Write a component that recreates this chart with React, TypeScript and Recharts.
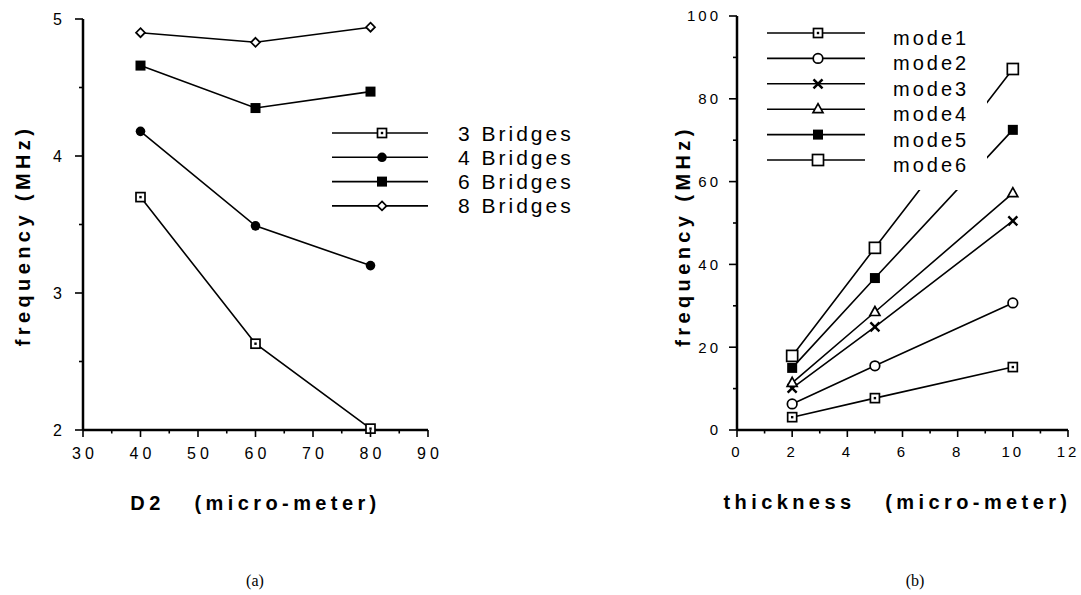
import { Legend, Line, LineChart, XAxis, YAxis } from "recharts";

const FONT = '"Liberation Sans", Arial, Helvetica, sans-serif';
const INK = "#000";

// (a) frequency against D2 for 3, 4, 6 and 8 bridges
const d2Values = [40, 60, 80];
const bridges3 = [3.7, 2.63, 2.01];
const bridges4 = [4.18, 3.49, 3.2];
const bridges6 = [4.66, 4.35, 4.47];
const bridges8 = [4.9, 4.83, 4.94];
const d2Ticks = [30, 35, 40, 45, 50, 55, 60, 65, 70, 75, 80, 85, 90];
const d2Labels = [30, 40, 50, 60, 70, 80, 90];
const bridgeFreqTicks = [2, 2.5, 3, 3.5, 4, 4.5, 5];
const bridgeFreqLabels = [2, 3, 4, 5];

// (b) frequency of the first six modes against thickness
const thicknessValues = [2, 5, 10];
const mode1 = [3.1, 7.7, 15.2];
const mode2 = [6.3, 15.5, 30.7];
const mode3 = [10.1, 24.9, 50.5];
const mode4 = [11.4, 28.5, 57.2];
const mode5 = [15, 36.7, 72.5];
const mode6 = [17.9, 44, 87.2];
const thicknessTicks = [0, 1, 2, 3, 4, 5, 6, 7, 8, 9, 10, 11, 12];
const thicknessLabels = [0, 2, 4, 6, 8, 10, 12];
const modeFreqTicks = [0, 10, 20, 30, 40, 50, 60, 70, 80, 90, 100];
const modeFreqLabels = [0, 20, 40, 60, 80, 100];

type MarkerKind =
  | "dotSquare"
  | "disc"
  | "solidSquare"
  | "diamond"
  | "circle"
  | "cross"
  | "triangle"
  | "square";

type Series = { key: string; name: string; values: number[]; marker: MarkerKind };

const bridgeSeries: Series[] = [
  { key: "b3", name: "3 Bridges", values: bridges3, marker: "dotSquare" },
  { key: "b4", name: "4 Bridges", values: bridges4, marker: "disc" },
  { key: "b6", name: "6 Bridges", values: bridges6, marker: "solidSquare" },
  { key: "b8", name: "8 Bridges", values: bridges8, marker: "diamond" },
];

const modeSeries: Series[] = [
  { key: "m1", name: "mode1", values: mode1, marker: "dotSquare" },
  { key: "m2", name: "mode2", values: mode2, marker: "circle" },
  { key: "m3", name: "mode3", values: mode3, marker: "cross" },
  { key: "m4", name: "mode4", values: mode4, marker: "triangle" },
  { key: "m5", name: "mode5", values: mode5, marker: "solidSquare" },
  { key: "m6", name: "mode6", values: mode6, marker: "square" },
];

const bridgeRows = d2Values.map((d2, i) => {
  const row: Record<string, number> = { d2 };
  bridgeSeries.forEach((s) => (row[s.key] = s.values[i]));
  return row;
});

const modeRows = thicknessValues.map((t, i) => {
  const row: Record<string, number> = { t };
  modeSeries.forEach((s) => (row[s.key] = s.values[i]));
  return row;
});

function Marker({ kind, x, y }: { kind: MarkerKind; x: number; y: number }) {
  const line = { stroke: INK, strokeWidth: 1.7 };
  switch (kind) {
    case "dotSquare":
      return (
        <g>
          <rect x={x - 4.5} y={y - 4.5} width={9} height={9} fill="#fff" {...line} />
          <rect x={x - 1.2} y={y - 1.2} width={2.4} height={2.4} fill={INK} />
        </g>
      );
    case "disc":
      return <circle cx={x} cy={y} r={4.8} fill={INK} />;
    case "solidSquare":
      return <rect x={x - 5} y={y - 5} width={10} height={10} fill={INK} />;
    case "diamond":
      return (
        <polygon
          points={`${x},${y - 4.5} ${x + 4.5},${y} ${x},${y + 4.5} ${x - 4.5},${y}`}
          fill="#fff"
          {...line}
        />
      );
    case "circle":
      return <circle cx={x} cy={y} r={4.8} fill="#fff" {...line} />;
    case "cross":
      return (
        <g stroke={INK} strokeWidth={2.4}>
          <line x1={x - 4.5} y1={y - 4.5} x2={x + 4.5} y2={y + 4.5} />
          <line x1={x - 4.5} y1={y + 4.5} x2={x + 4.5} y2={y - 4.5} />
        </g>
      );
    case "triangle":
      return (
        <polygon
          points={`${x},${y - 5.5} ${x + 5},${y + 3.5} ${x - 5},${y + 3.5}`}
          fill="#fff"
          {...line}
        />
      );
    case "square":
      return <rect x={x - 5.5} y={y - 5.5} width={11} height={11} fill="#fff" {...line} />;
  }
}

const renderDot = (kind: MarkerKind) => (p: any) =>
  <Marker key={`${kind}-${p.index}`} kind={kind} x={p.cx} y={p.cy} />;

// Tick drawn by hand so minor ticks get a shorter line and no label.
function YTick(props: any) {
  const { x, y, payload, labels, size, gap, fontSize, spacing } = props;
  const axisX = x + size + gap;
  const major = labels.includes(payload.value);
  return (
    <g>
      <line x1={axisX} x2={axisX - (major ? size : size / 2)} y1={y} y2={y} stroke={INK} strokeWidth={1.6} />
      {major && (
        <text
          x={x}
          y={y}
          dy="0.36em"
          textAnchor="end"
          fontFamily={FONT}
          fontSize={fontSize}
          letterSpacing={spacing}
          fill={INK}
        >
          {payload.value}
        </text>
      )}
    </g>
  );
}

function XTick(props: any) {
  const { x, y, payload, labels, size, gap, fontSize, spacing, nudge = 0 } = props;
  const axisY = y - size - gap;
  const major = labels.includes(payload.value);
  return (
    <g>
      <line x1={x} x2={x} y1={axisY} y2={axisY + (major ? size : size / 2)} stroke={INK} strokeWidth={1.6} />
      {major && (
        <text
          x={x + nudge}
          y={y}
          dy="0.71em"
          textAnchor="middle"
          fontFamily={FONT}
          fontSize={fontSize}
          letterSpacing={spacing}
          fill={INK}
        >
          {payload.value}
        </text>
      )}
    </g>
  );
}

const titleStyle = {
  fontFamily: FONT,
  fontSize: 20,
  fontWeight: 700,
  letterSpacing: 4.4,
  whiteSpace: "pre" as const,
};

function YTitle({ viewBox, text, gap, shift }: any) {
  const x = viewBox.x + viewBox.width - gap;
  const y = viewBox.y + viewBox.height / 2 + shift;
  return (
    <text
      x={x}
      y={y}
      transform={`rotate(-90 ${x} ${y})`}
      textAnchor="middle"
      dominantBaseline="central"
      fill={INK}
      style={titleStyle}
    >
      {text}
    </text>
  );
}

function XTitle({ viewBox, text, gap, shift }: any) {
  const x = viewBox.x + viewBox.width / 2 + shift;
  const y = viewBox.y + gap;
  return (
    <text x={x} y={y} textAnchor="middle" dominantBaseline="central" fill={INK} style={titleStyle}>
      {text}
    </text>
  );
}

function LegendBox({ series, width, height, rowTop, rowGap, lineEnd, markerX, textX, fontSize, baseline }: any) {
  return (
    <svg width={width} height={height} style={{ display: "block", background: "#fff" }}>
      {series.map((s: Series, i: number) => {
        const y = rowTop + i * rowGap;
        return (
          <g key={s.key}>
            <line x1={2} x2={lineEnd} y1={y} y2={y} stroke={INK} strokeWidth={1.6} />
            <Marker kind={s.marker} x={markerX} y={y} />
            <text x={textX} y={y + baseline} fontFamily={FONT} fontSize={fontSize} letterSpacing={3} fill={INK}>
              {s.name}
            </text>
          </g>
        );
      })}
    </svg>
  );
}

const axisLine = { stroke: INK, strokeWidth: 2.5 };

export default function App() {
  return (
    <div
      style={{
        position: "absolute",
        left: 0,
        top: 0,
        width: 1081,
        height: 595,
        background: "#fff",
        overflow: "hidden",
      }}
    >
      <div style={{ position: "absolute", left: 0, top: 0 }}>
        <LineChart width={540} height={595} data={bridgeRows} margin={{ top: 19, right: 112, bottom: 135, left: 43 }}>
          <XAxis
            dataKey="d2"
            type="number"
            domain={[30, 90]}
            ticks={d2Ticks}
            interval={0}
            height={30}
            tickSize={7}
            tickMargin={11}
            tickLine={false}
            axisLine={axisLine}
            tick={(p: any) => (
              <XTick {...p} labels={d2Labels} size={7} gap={11} fontSize={16} spacing={4} nudge={2} />
            )}
            label={{
              content: (p: any) => <XTitle viewBox={p.viewBox} text={"D2   (micro-meter)"} gap={73} shift={0} />,
            }}
          />
          <YAxis
            type="number"
            domain={[2, 5]}
            ticks={bridgeFreqTicks}
            interval={0}
            width={40}
            tickSize={8}
            tickMargin={10}
            tickLine={false}
            axisLine={axisLine}
            tick={(p: any) => <YTick {...p} labels={bridgeFreqLabels} size={8} gap={10} fontSize={16} spacing={3} />}
            label={{
              content: (p: any) => <YTitle viewBox={p.viewBox} text="frequency (MHz)" gap={60} shift={11} />,
            }}
          />
          <Legend
            layout="horizontal"
            verticalAlign="middle"
            align="center"
            wrapperStyle={{ left: 330, top: 115, width: 260, height: 105 }}
            content={() => (
              <LegendBox
                series={bridgeSeries}
                width={260}
                height={105}
                rowTop={18}
                rowGap={24.3}
                lineEnd={98}
                markerX={52}
                textX={128}
                fontSize={21}
                baseline={7.5}
              />
            )}
          />
          {bridgeSeries.map((s) => (
            <Line
              key={s.key}
              dataKey={s.key}
              name={s.name}
              type="linear"
              stroke={INK}
              strokeWidth={1.6}
              dot={renderDot(s.marker)}
              activeDot={false}
              isAnimationActive={false}
            />
          ))}
        </LineChart>
      </div>

      <div style={{ position: "absolute", left: 540, top: 0 }}>
        <LineChart width={541} height={595} data={modeRows} margin={{ top: 16, right: 13, bottom: 135, left: 157 }}>
          <XAxis
            dataKey="t"
            type="number"
            domain={[0, 12]}
            ticks={thicknessTicks}
            interval={0}
            height={30}
            tickSize={7}
            tickMargin={9}
            tickLine={false}
            axisLine={axisLine}
            tick={(p: any) => <XTick {...p} labels={thicknessLabels} size={7} gap={9} fontSize={15} spacing={3} />}
            label={{
              content: (p: any) => (
                <XTitle viewBox={p.viewBox} text={"thickness   (micro-meter)"} gap={72} shift={-5} />
              ),
            }}
          />
          <YAxis
            type="number"
            domain={[0, 100]}
            ticks={modeFreqTicks}
            interval={0}
            width={40}
            tickSize={8}
            tickMargin={8}
            tickLine={false}
            axisLine={axisLine}
            tick={(p: any) => <YTick {...p} labels={modeFreqLabels} size={8} gap={8} fontSize={15} spacing={3} />}
            label={{
              content: (p: any) => <YTitle viewBox={p.viewBox} text="frequency (MHz)" gap={54} shift={13} />,
            }}
          />
          {modeSeries.map((s) => (
            <Line
              key={s.key}
              dataKey={s.key}
              name={s.name}
              type="linear"
              stroke={INK}
              strokeWidth={1.6}
              dot={renderDot(s.marker)}
              activeDot={false}
              isAnimationActive={false}
            />
          ))}
          <Legend
            layout="horizontal"
            verticalAlign="middle"
            align="center"
            wrapperStyle={{ left: 225, top: 20, width: 222, height: 170 }}
            content={() => (
              <LegendBox
                series={modeSeries}
                width={222}
                height={170}
                rowTop={13}
                rowGap={25.4}
                lineEnd={100}
                markerX={53}
                textX={128}
                fontSize={20}
                baseline={12}
              />
            )}
          />
        </LineChart>
      </div>

      <div
        style={{
          position: "absolute",
          left: 235,
          top: 572,
          width: 40,
          textAlign: "center",
          fontFamily: '"Liberation Serif", "DejaVu Serif", serif',
          fontSize: 16,
        }}
      >
        (a)
      </div>
      <div
        style={{
          position: "absolute",
          left: 895,
          top: 572,
          width: 40,
          textAlign: "center",
          fontFamily: '"Liberation Serif", "DejaVu Serif", serif',
          fontSize: 16,
        }}
      >
        (b)
      </div>
    </div>
  );
}
